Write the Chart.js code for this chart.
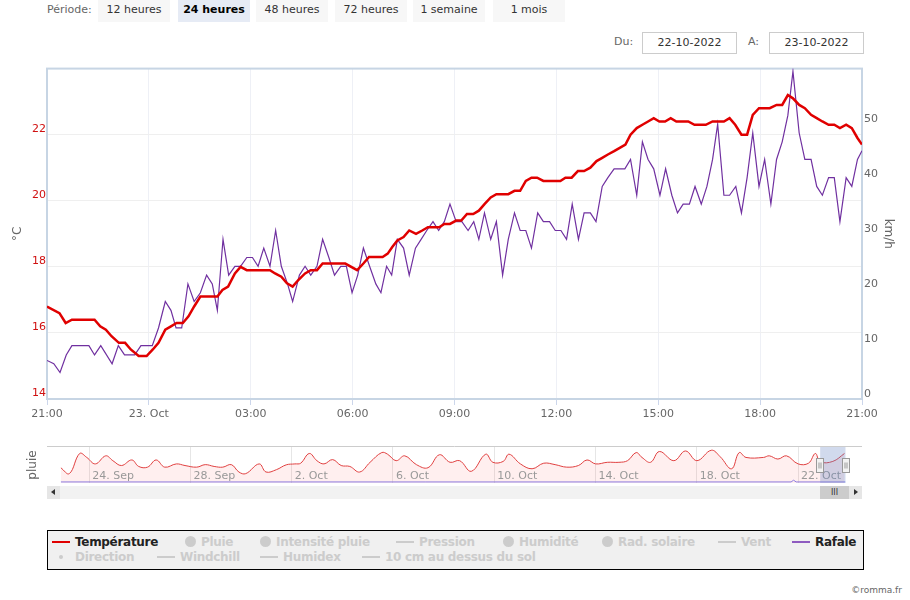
<!DOCTYPE html>
<html>
<head>
<meta charset="utf-8">
<script src="https://cdn.jsdelivr.net/npm/chart.js@4.4.0/dist/chart.umd.min.js"></script>
<style>
  body { margin: 0; background: #fff; font-family: "DejaVu Sans", Verdana, sans-serif; }
  #page { position: relative; width: 910px; height: 600px; overflow: hidden; }
  .abs { position: absolute; }
  .lbl { position: absolute; font-size: 11px; color: #666; line-height: 20px; }
  .btn { position: absolute; top: 0; width: 72px; height: 22px; background: #f7f7f7; font-size: 11px;
         color: #333; text-align: center; line-height: 20px; }
  .btn.on { background: #e6ebf5; font-weight: bold; color: #000; }
  .date { position: absolute; top: 32px; width: 93px; height: 20px; border: 1px solid #ccc; font-size: 11px;
          color: #333; text-align: center; line-height: 20px; }
  #legend { position: absolute; left: 47px; top: 530px; width: 815px; height: 38px; border: 1px solid #000;
            background: #f0f0f0; }
  .it { position: absolute; font-weight: bold; font-size: 12px; color: #ccc; line-height: 15px; white-space: nowrap;
        letter-spacing: -0.3px; }
  .it.on { color: #222; }
  .sym { display: inline-block; vertical-align: middle; margin-right: 5px; background: #ccc; position: relative; top: -1px; }
  .ln { width: 18px; height: 2px; }
  .dot { width: 11px; height: 11px; border-radius: 50%; }
  .pt { width: 4px; height: 4px; border-radius: 50%; margin-right: 12px; }
  .sb { position: absolute; top: 486px; height: 13px; }
  #copy { position: absolute; right: 8px; top: 585px; font-size: 9px; color: #666; }
</style>
</head>
<body>
<div id="page">
  <span class="lbl" style="left:47px;top:0">Période:</span>
  <span class="btn" style="left:98px">12 heures</span>
  <span class="btn on" style="left:178px">24 heures</span>
  <span class="btn" style="left:256px">48 heures</span>
  <span class="btn" style="left:335px">72 heures</span>
  <span class="btn" style="left:413px">1 semaine</span>
  <span class="btn" style="left:493px">1 mois</span>

  <span class="lbl" style="left:614px;top:32px">Du:</span>
  <span class="date" style="left:642px">22-10-2022</span>
  <span class="lbl" style="left:748px;top:32px">A:</span>
  <span class="date" style="left:769px">23-10-2022</span>

  <canvas id="main" class="abs" width="910" height="370" style="left:0;top:60px"></canvas>
  <canvas id="nav" class="abs" width="910" height="45" style="left:0;top:440px"></canvas>

  <div class="sb" style="left:47px;width:815px;background:#f2f2f2"></div>
  <div class="sb" style="left:47px;width:13px;background:#e6e6e6">
    <div class="abs" style="left:4px;top:3px;width:0;height:0;border-top:3.5px solid transparent;border-bottom:3.5px solid transparent;border-right:4px solid #333"></div>
  </div>
  <div class="sb" style="left:820px;width:29px;background:#ccc;font-size:8px;color:#333;text-align:center;line-height:13px">III</div>
  <div class="sb" style="left:849px;width:13px;background:#e6e6e6">
    <div class="abs" style="left:5px;top:3px;width:0;height:0;border-top:3.5px solid transparent;border-bottom:3.5px solid transparent;border-left:4px solid #333"></div>
  </div>

  <div id="legend">
    <span class="it on" style="left:4px;top:4px"><i class="sym ln" style="background:#e00000"></i>Température</span>
    <span class="it" style="left:137px;top:4px"><i class="sym dot"></i>Pluie</span>
    <span class="it" style="left:212px;top:4px"><i class="sym dot"></i>Intensité pluie</span>
    <span class="it" style="left:348px;top:4px"><i class="sym ln"></i>Pression</span>
    <span class="it" style="left:455px;top:4px"><i class="sym dot"></i>Humidité</span>
    <span class="it" style="left:554px;top:4px"><i class="sym dot"></i>Rad. solaire</span>
    <span class="it" style="left:670px;top:4px"><i class="sym ln"></i>Vent</span>
    <span class="it on" style="left:744px;top:4px"><i class="sym ln" style="background:#8e5bc0"></i>Rafale</span>
    <span class="it" style="left:11px;top:19px"><i class="sym pt"></i>Direction</span>
    <span class="it" style="left:109px;top:19px"><i class="sym ln"></i>Windchill</span>
    <span class="it" style="left:212px;top:19px"><i class="sym ln"></i>Humidex</span>
    <span class="it" style="left:314px;top:19px"><i class="sym ln"></i>10 cm au dessus du sol</span>
  </div>
  <div id="copy">©romma.fr</div>
</div>

<script>
// main chart: minutes since 22-10 21:00
const tempTimes = [0, 22, 33, 44, 84, 94, 104, 114, 127, 138, 148, 162, 176, 187, 197, 209, 219, 229, 240, 250,
  260, 271, 301, 310, 320, 332, 342, 353, 394, 403, 414, 424, 434, 444, 456, 466, 477, 487, 527, 548,
  559, 569, 593, 602, 610, 619, 630, 640, 652, 663, 673, 693, 702, 712, 723, 732, 742, 753, 763, 773,
  784, 794, 805, 815, 826, 836, 846, 856, 866, 877, 907, 916, 927, 938, 949, 960, 971, 981, 991, 1002,
  1012, 1022, 1031, 1042, 1052, 1062, 1072, 1082, 1092, 1102, 1112, 1133, 1144, 1164, 1176, 1196, 1206, 1216, 1227, 1237,
  1247, 1258, 1277, 1289, 1299, 1309, 1318, 1329, 1339, 1350, 1360, 1370, 1381, 1391, 1401, 1412, 1422, 1432, 1440];
const tempC = [16.8, 16.6, 16.3, 16.4, 16.4, 16.2, 16.1, 15.9, 15.7, 15.7, 15.5, 15.3, 15.3, 15.5, 15.7, 16.1, 16.2, 16.3, 16.3, 16.5,
  16.8, 17.1, 17.1, 17.3, 17.4, 17.8, 18.0, 17.9, 17.9, 17.8, 17.7, 17.5, 17.4, 17.6, 17.8, 17.9, 17.9, 18.1, 18.1, 17.9,
  18.1, 18.3, 18.3, 18.4, 18.6, 18.8, 18.9, 19.1, 19.0, 19.1, 19.2, 19.2, 19.3, 19.3, 19.4, 19.4, 19.6, 19.6, 19.7, 19.9,
  20.1, 20.2, 20.2, 20.2, 20.3, 20.3, 20.6, 20.7, 20.7, 20.6, 20.6, 20.7, 20.7, 20.9, 20.9, 21.0, 21.2, 21.3, 21.4, 21.5,
  21.6, 21.7, 22.0, 22.2, 22.3, 22.4, 22.5, 22.4, 22.4, 22.5, 22.4, 22.4, 22.3, 22.3, 22.4, 22.4, 22.5, 22.3, 22.0, 22.0,
  22.6, 22.8, 22.8, 22.9, 22.9, 23.2, 23.1, 22.9, 22.8, 22.6, 22.5, 22.4, 22.3, 22.3, 22.2, 22.3, 22.2, 21.9, 21.7];

const gustTimes = [0, 12, 23, 34, 44, 74, 84, 95, 115, 126, 137, 155, 166, 186, 197, 209, 219, 228, 238, 249,
  260, 271, 282, 292, 301, 311, 321, 332, 342, 353, 363, 373, 383, 394, 404, 414, 425, 434, 446, 456,
  466, 477, 487, 498, 508, 519, 529, 539, 549, 559, 570, 581, 590, 600, 609, 619, 630, 640, 651, 661,
  671, 682, 692, 702, 712, 723, 733, 744, 754, 763, 773, 784, 794, 805, 815, 826, 836, 846, 856, 867,
  877, 888, 898, 908, 918, 928, 939, 949, 960, 970, 981, 991, 1002, 1012, 1021, 1031, 1042, 1052, 1062, 1072,
  1083, 1093, 1104, 1114, 1124, 1135, 1145, 1156, 1166, 1176, 1185, 1196, 1206, 1217, 1227, 1237, 1247, 1258, 1268, 1279,
  1289, 1299, 1309, 1318, 1329, 1339, 1350, 1360, 1370, 1381, 1391, 1401, 1412, 1422, 1432, 1440];
const gustKmh = [7.0, 6.4, 4.8, 8.0, 9.7, 9.7, 8.0, 9.7, 6.4, 9.7, 8.0, 8.0, 9.7, 9.7, 12.9, 17.7, 16.1, 12.9, 12.9, 20.9,
  17.7, 19.3, 22.5, 20.9, 16.1, 29.0, 22.5, 24.1, 24.1, 25.7, 25.7, 24.1, 27.4, 24.1, 30.6, 24.1, 20.9, 17.7, 22.5, 24.1,
  22.5, 24.1, 29.0, 25.7, 22.5, 24.1, 24.1, 19.3, 22.5, 27.4, 24.1, 20.9, 19.3, 24.1, 22.5, 29.0, 27.4, 22.5, 27.4, 29.0,
  30.6, 32.2, 30.6, 32.2, 35.4, 32.2, 32.2, 30.6, 32.2, 29.0, 33.8, 29.0, 32.2, 22.5, 29.0, 33.8, 30.6, 30.6, 27.4, 33.8,
  32.2, 32.2, 30.6, 30.6, 29.0, 35.4, 29.0, 33.8, 33.8, 32.2, 38.6, 40.2, 41.8, 41.8, 41.8, 43.5, 37.0, 46.7, 43.5, 41.8,
  37.0, 41.8, 37.0, 33.8, 35.4, 35.4, 38.6, 35.4, 38.6, 43.5, 49.9, 37.0, 37.0, 38.6, 33.8, 40.2, 48.3, 38.6, 43.5, 35.4,
  43.5, 46.7, 51.5, 59.5, 48.3, 43.5, 43.5, 38.6, 37.0, 40.2, 40.2, 32.2, 40.2, 38.6, 43.5, 45.1];

const xTickLabels = ["21:00", "23. Oct", "03:00", "06:00", "09:00", "12:00", "15:00", "18:00", "21:00"];

// navigator: days since 22-09 21:00
const navDays = [0, 0.34, 0.75, 1.03, 1.37, 1.78, 2.06, 2.4, 2.81, 3.08, 3.43, 3.77, 4.11, 4.57, 4.91, 5.37, 5.71, 6.06, 6.4, 6.74,
  7.04, 7.31, 7.84, 8.11, 8.52, 8.91, 9.25, 9.48, 9.82, 10.12, 10.4, 10.74, 11.08, 11.42, 11.81, 12.22, 12.68, 12.91, 13.25, 13.59,
  14.05, 14.51, 14.96, 15.38, 15.76, 16.22, 16.79, 17.07, 17.48, 17.71, 18.16, 18.62, 19.08, 19.53, 19.99, 20.45, 20.79, 21.13, 21.59, 22.05,
  22.39, 22.73, 22.96, 23.3, 23.65, 24.22, 24.68, 25.13, 25.7, 26.05, 26.5, 26.8, 27.07, 27.76, 27.99, 28.33, 28.67, 29.13, 29.54, 29.81,
  30.0, 30.5, 30.96];
const navTempC = [13.5, 10.2, 21.4, 19.2, 15.6, 20.1, 17.4, 14.7, 17.8, 14.2, 13.8, 17.8, 13.8, 15.6, 14.7, 13.8, 15.2, 14.2, 13.8, 15.2,
  11.1, 10.2, 15.6, 11.1, 12.4, 15.1, 15.6, 16.0, 21.4, 17.4, 15.6, 18.0, 14.7, 14.2, 11.1, 16.5, 21.9, 21.0, 17.4, 20.1,
  15.2, 13.5, 20.7, 16.5, 17.4, 11.5, 21.0, 16.5, 17.0, 21.0, 15.6, 12.9, 16.0, 15.2, 13.8, 14.7, 17.8, 15.6, 16.5, 16.5,
  17.4, 21.9, 19.2, 16.5, 22.5, 17.4, 22.8, 17.4, 23.2, 19.6, 12.9, 21.9, 19.2, 19.2, 20.1, 18.3, 20.1, 15.6, 16.0, 21.4,
  16.8, 17.0, 21.4];
const navRainDays = [0, 28.85, 28.95, 29.05, 31];
const navRainMm = [0, 0, 1, 0, 0];
const navTickDays = [1.125, 5.125, 9.125, 13.125, 17.125, 21.125, 25.125, 29.125];
const navTickLabels = ["24. Sep", "28. Sep", "2. Oct", "6. Oct", "10. Oct", "14. Oct", "18. Oct", "22. Oct"];
const selFrom = 30, selTo = 31;

Chart.defaults.font.family = '"DejaVu Sans", Verdana, sans-serif';
Chart.defaults.font.size = 11;

const plotBorder = {
  id: 'plotBorder',
  beforeDatasetsDraw(c) {
    const a = c.chartArea, g = c.ctx;
    g.save();
    g.strokeStyle = '#c7d5e4';
    g.lineWidth = 2;
    g.strokeRect(a.left, a.top, a.right - a.left, a.bottom - a.top);
    g.restore();
  }
};

new Chart(document.getElementById('main'), {
  type: 'line',
  data: {
    datasets: [
      { label: 'Température', data: tempTimes.map((t, i) => ({ x: t, y: tempC[i] })), yAxisID: 'yT',
        borderColor: '#e00000', borderWidth: 2.5, pointRadius: 0, tension: 0 },
      { label: 'Rafale', data: gustTimes.map((t, i) => ({ x: t, y: gustKmh[i] })), yAxisID: 'yW',
        borderColor: '#7030a0', borderWidth: 1.2, pointRadius: 0, tension: 0 }
    ]
  },
  options: {
    responsive: false,
    animation: false,
    events: [],
    layout: { padding: { top: 7 } },
    plugins: { legend: { display: false }, tooltip: { enabled: false } },
    scales: {
      x: {
        type: 'linear', min: 0, max: 1440,
        ticks: { stepSize: 180, autoSkip: false, maxRotation: 0, color: '#666', padding: 3,
                 callback: v => xTickLabels[Math.round(v / 180)] },
        grid: { color: '#eef0f6', tickLength: 6, tickColor: '#ccd6eb' },
        border: { display: false },
        afterFit: s => { s.height = 31; }
      },
      yT: {
        position: 'left', min: 14, max: 24,
        ticks: { stepSize: 2, color: '#d01010', padding: 1, labelOffset: -6, callback: v => v < 24 ? String(v) : '' },
        grid: { color: '#efefef', drawTicks: false },
        border: { display: false },
        title: { display: true, text: '°C', color: '#666', font: { size: 12 }, padding: { top: 11, bottom: 0 } },
        afterFit: s => { s.width = 47; }
      },
      yW: {
        position: 'right', min: 0, max: 60,
        ticks: { stepSize: 10, color: '#666', padding: 2, labelOffset: -5, callback: v => v < 60 ? String(v) : '' },
        grid: { display: false, drawTicks: false },
        border: { display: false },
        title: { display: true, text: 'km/h', color: '#666', font: { size: 12 }, padding: { top: 15, bottom: 0 } },
        afterFit: s => { s.width = 48; }
      }
    }
  },
  plugins: [plotBorder]
});

const navDecor = {
  id: 'navDecor',
  afterDatasetsDraw(c) {
    const g = c.ctx, a = c.chartArea, x = c.scales.x;
    g.save();
    g.font = '11px "DejaVu Sans", Verdana, sans-serif';
    g.fillStyle = '#999';
    g.textBaseline = 'middle';
    navTickDays.forEach((d, i) => g.fillText(navTickLabels[i], x.getPixelForValue(d) + 3, a.bottom - 7));
    const x0 = x.getPixelForValue(selFrom), x1 = x.getPixelForValue(selTo);
    g.fillStyle = 'rgba(102,133,194,0.3)';
    g.fillRect(x0, a.top, x1 - x0, a.bottom - a.top);
    g.strokeStyle = '#ccc';
    g.lineWidth = 1;
    g.beginPath();
    g.moveTo(47, a.top - 0.5);
    g.lineTo(862, a.top - 0.5);
    g.stroke();
    [x0, x1].forEach(h => {
      const hx = Math.round(h) - 3.5, hy = a.top + 11.5;
      g.fillStyle = '#f2f2f2';
      g.strokeStyle = '#999';
      g.fillRect(hx, hy, 7, 14);
      g.strokeRect(hx, hy, 7, 14);
      g.beginPath();
      g.moveTo(hx + 2.5, hy + 4); g.lineTo(hx + 2.5, hy + 10);
      g.moveTo(hx + 4.5, hy + 4); g.lineTo(hx + 4.5, hy + 10);
      g.stroke();
    });
    g.restore();
  }
};

new Chart(document.getElementById('nav'), {
  type: 'line',
  data: {
    datasets: [
      { data: navDays.map((d, i) => ({ x: d, y: navTempC[i] })), yAxisID: 'y',
        borderColor: '#e04040', borderWidth: 1, backgroundColor: 'rgba(255,80,80,0.09)', fill: 'start',
        pointRadius: 0, tension: 0.4 },
      { data: navRainDays.map((d, i) => ({ x: d, y: navRainMm[i] })), yAxisID: 'yR',
        borderColor: '#8080ee', borderWidth: 1, fill: false, pointRadius: 0, tension: 0 }
    ]
  },
  options: {
    responsive: false,
    animation: false,
    events: [],
    layout: { padding: { top: 7, right: 64.5 } },
    plugins: { legend: { display: false }, tooltip: { enabled: false } },
    scales: {
      x: {
        type: 'linear', min: 0, max: 31,
        afterBuildTicks: s => { s.ticks = navTickDays.map(v => ({ value: v })); },
        ticks: { display: false },
        grid: { color: '#e6e6e6', drawTicks: false },
        border: { display: false },
        afterFit: s => { s.height = 2; }
      },
      y: {
        min: 5, max: 25,
        ticks: { display: false },
        grid: { display: false, drawTicks: false },
        border: { display: false },
        title: { display: true, text: 'pluie', color: '#666', font: { size: 12 }, padding: { top: 26, bottom: 0 } },
        afterFit: s => { s.width = 60.7; }
      },
      yR: { display: false, min: -0.6, max: 20 }
    }
  },
  plugins: [navDecor]
});
</script>
</body>
</html>
